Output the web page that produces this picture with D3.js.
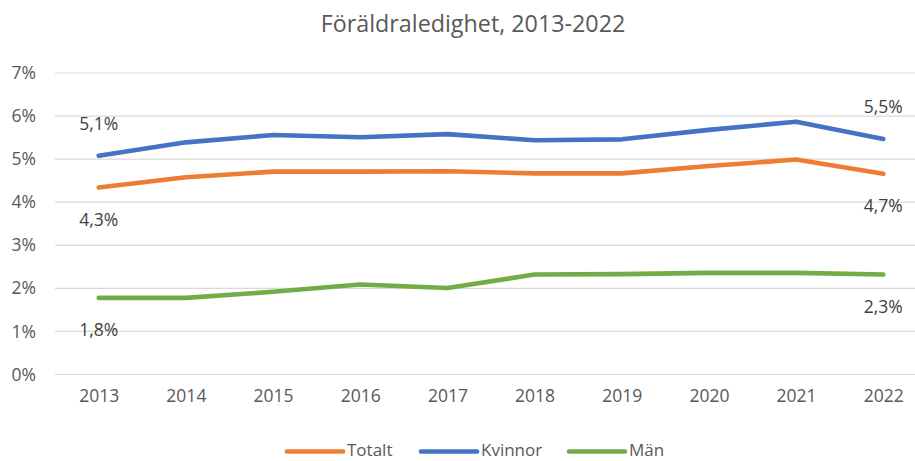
<!DOCTYPE html>
<html>
<head>
<meta charset="utf-8">
<script src="https://cdn.jsdelivr.net/npm/d3@7"></script>
<style>
  html, body { margin: 0; padding: 0; background: #fff; }
  svg { display: block; font-family: "Open Sans", "Noto Sans", sans-serif; }
</style>
</head>
<body>
<svg id="chart" width="915" height="461"></svg>
<script>
// Föräldraledighet (parental leave) as a share, per year
const years = ["2013", "2014", "2015", "2016", "2017", "2018", "2019", "2020", "2021", "2022"];
const totalt  = [4.34, 4.58, 4.71, 4.71, 4.72, 4.67, 4.67, 4.84, 4.99, 4.66];
const kvinnor = [5.08, 5.39, 5.56, 5.51, 5.58, 5.44, 5.46, 5.68, 5.87, 5.47];
const man     = [1.78, 1.78, 1.92, 2.09, 2.01, 2.32, 2.33, 2.36, 2.36, 2.32];
const yTicks = [0, 1, 2, 3, 4, 5, 6, 7];
const seriesNames = ["Totalt", "Kvinnor", "Män"];
const seriesColors = ["#ED7D31", "#4472C4", "#70AD47"];
const title = "Föräldraledighet, 2013-2022";

const series = [
  { name: seriesNames[0], values: totalt,  color: seriesColors[0], labelDir: 1 },
  { name: seriesNames[1], values: kvinnor, color: seriesColors[1], labelDir: -1 },
  { name: seriesNames[2], values: man,     color: seriesColors[2], labelDir: 1 }
];

const svg = d3.select("#chart");
const textColor = "#595959";
const fmt = v => d3.format(".1f")(v).replace(".", ",") + "%";

const x = d3.scalePoint().domain(years).range([98.7, 883.3]);
const y = d3.scaleLinear().domain([0, 7]).range([374.5, 73]);
const gridLeft = 55, gridRight = 915;

// Title
svg.append("text")
  .attr("x", 473).attr("y", 32)
  .attr("text-anchor", "middle")
  .attr("fill", textColor)
  .style("font-size", "23.3px")
  .text(title);

// Horizontal gridlines
svg.append("g").selectAll("line")
  .data(yTicks).join("line")
  .attr("x1", gridLeft).attr("x2", gridRight)
  .attr("y1", d => y(d)).attr("y2", d => y(d))
  .attr("stroke", "#D9D9D9").attr("stroke-width", 1.2);

// Y axis labels
const yAxis = d3.axisLeft(y).tickValues(yTicks).tickFormat(d => d + "%").tickSize(0).tickPadding(0);
svg.append("g")
  .attr("transform", "translate(36,0)")
  .call(yAxis)
  .call(g => g.select(".domain").remove())
  .call(g => g.selectAll("text")
    .attr("fill", textColor)
    .style("font-size", "17.5px")
    .style("font-family", "'Open Sans', sans-serif"));

// X axis labels
const xAxis = d3.axisBottom(x).tickSize(0).tickPadding(0);
svg.append("g")
  .attr("transform", "translate(0,390)")
  .call(xAxis)
  .call(g => g.select(".domain").remove())
  .call(g => g.selectAll("text")
    .attr("fill", textColor)
    .style("font-size", "17.5px")
    .style("font-family", "'Open Sans', sans-serif"));

// Lines
const line = d3.line().x((d, i) => x(years[i])).y(d => y(d));
svg.append("g").selectAll("path")
  .data(series).join("path")
  .attr("d", d => line(d.values))
  .attr("fill", "none")
  .attr("stroke", d => d.color)
  .attr("stroke-width", 4.6)
  .attr("stroke-linejoin", "round")
  .attr("stroke-linecap", "round");

// Data labels on first and last points
const labelG = svg.append("g");
series.forEach(s => {
  [0, years.length - 1].forEach(i => {
    labelG.append("text")
      .attr("x", x(years[i]))
      .attr("y", y(s.values[i]) + s.labelDir * 32)
      .attr("dy", "0.35em")
      .attr("text-anchor", "middle")
      .attr("fill", "#404040")
      .style("font-size", "17.5px")
      .text(fmt(s.values[i]));
  });
});

// Legend
const legendItems = [
  { s: series[0], x: 287 },
  { s: series[1], x: 421 },
  { s: series[2], x: 569 }
];
const lg = svg.append("g");
legendItems.forEach(it => {
  lg.append("line")
    .attr("x1", it.x).attr("x2", it.x + 56)
    .attr("y1", 451.5).attr("y2", 451.5)
    .attr("stroke", it.s.color).attr("stroke-width", 4.6)
    .attr("stroke-linecap", "round");
  lg.append("text")
    .attr("x", it.x + 60).attr("y", 455.5)
    .attr("fill", textColor)
    .style("font-size", "17px")
    .text(it.s.name);
});
</script>
</body>
</html>
